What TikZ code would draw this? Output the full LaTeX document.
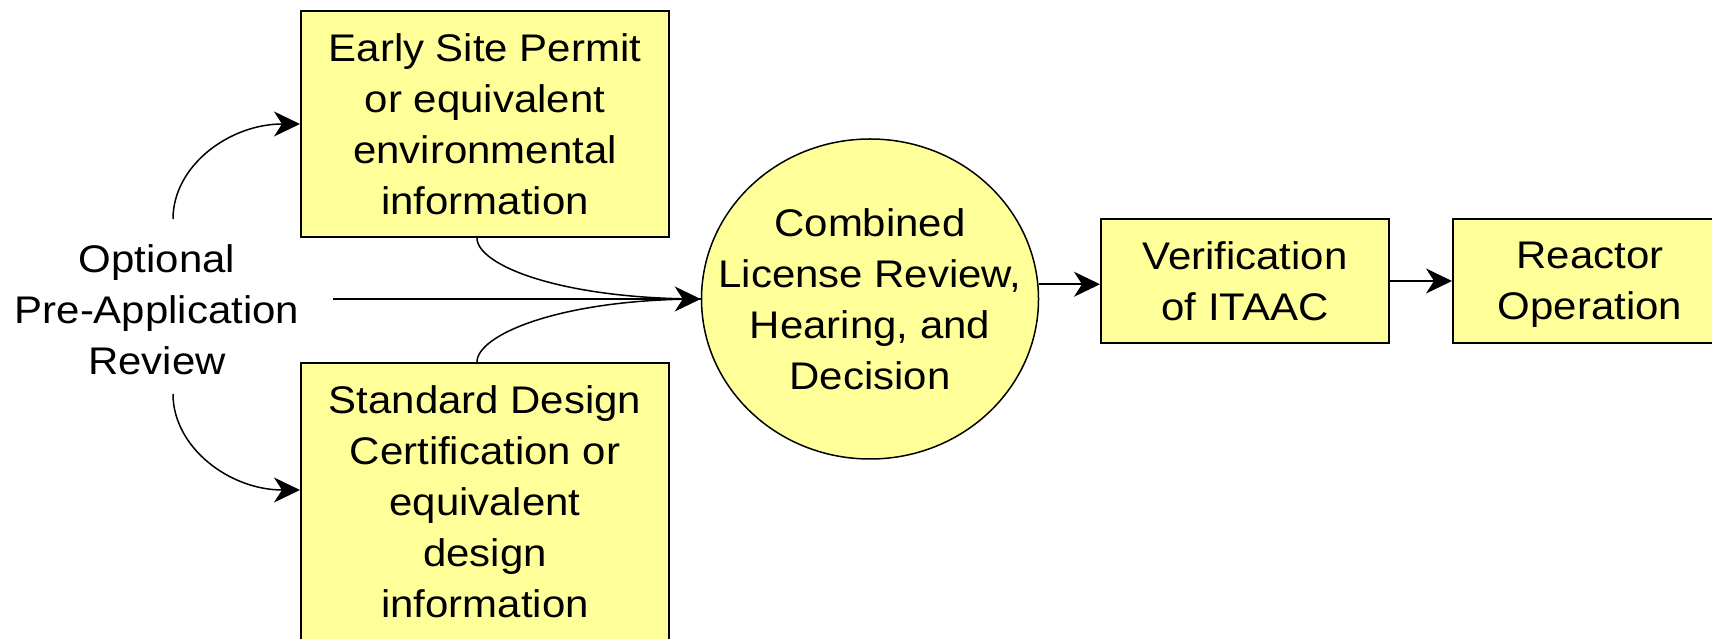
\documentclass[tikz,border=0pt]{standalone}
\usepackage{fontspec}
\setmainfont{Liberation Sans}[FakeStretch=1.09]
\usetikzlibrary{arrows.meta,shapes.geometric,calc}
\definecolor{boxfill}{HTML}{FFFF99}
\begin{document}
\begin{tikzpicture}[x=1pt,y=1pt,
  box/.style={draw=black,line width=2pt,fill=boxfill,align=center,inner sep=0pt},
  big/.style={font=\fontsize{38.5}{51}\selectfont},
  arr/.style={line width=1.5pt,-{Stealth[length=26pt,width=25pt,inset=8pt]}},
  link/.style={line width=1.5pt}]
\useasboundingbox (0,0) rectangle (1712,639);
\node[box,big,minimum width=368pt,minimum height=226pt] (esp) at (485,515)
  {Early Site Permit\\or equivalent\\environmental\\information};
\node[box,big,minimum width=368pt,minimum height=278pt] (sdc) at (485,137)
  {Standard Design\\Certification or\\equivalent\\design\\information};
\node[ellipse,draw=black,line width=1.5pt,fill=boxfill,minimum width=337pt,minimum height=320pt,inner sep=0pt] (circ) at (870,340) {};
\node[big,align=center] (circtxt) at (circ.center) {Combined\\License Review,\\Hearing, and\\Decision};
\node[box,big,minimum width=288pt,minimum height=124pt] (verif) at (1245,358) {Verification\\of ITAAC};
\node[box,big,minimum width=274pt,minimum height=124pt,text depth=0pt] (reactor) at (1590,358) {Reactor\\Operation};
\node[big,align=center] (opt) at (157,329) {Optional\\Pre-Application\\Review};
\coordinate (optout) at (333,340);
\coordinate (upstart) at (173,420);
\coordinate (downstart) at (173,245);
\coordinate (sdcin) at ($(sdc.north west)+(0,-128)$);
\draw[link] ($(esp.south)+(-8,0)$) .. controls +(0,-27) and +(-141,0) .. (circ.west);
\draw[link] ($(sdc.north)+(-8,0)$) .. controls +(0,27) and +(-141,0) .. (circ.west);
\draw[arr] (optout) -- (circ.west);
\draw[arr] (upstart) .. controls +(0,53) and +(-71,0) .. (esp.west);
\draw[arr] (downstart) .. controls +(0,-53) and +(-71,0) .. (sdcin);
\draw[arr] (circ.5) -- (circ.5 -| verif.west);
\draw[arr] (verif.east) -- (reactor.west);
\end{tikzpicture}
\end{document}
